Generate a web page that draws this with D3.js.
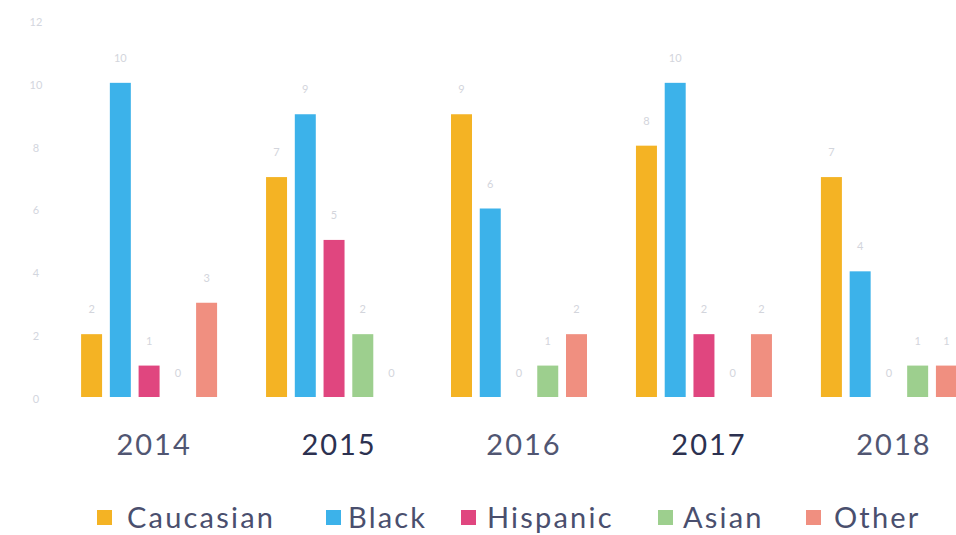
<!DOCTYPE html>
<html>
<head>
<meta charset="utf-8">
<script src="https://cdn.jsdelivr.net/npm/d3@7"></script>
<style>
  html, body { margin: 0; padding: 0; background: #fff; }
  body { width: 956px; height: 535px; overflow: hidden; }
  svg { display: block; font-family: Lato, "Open Sans", sans-serif; }
</style>
</head>
<body>
<script>
const width = 956;
const height = 535;

const years = ["2014", "2015", "2016", "2017", "2018"];
const groups = ["Caucasian", "Black", "Hispanic", "Asian", "Other"];
const colors = ["#f4b324", "#3cb2ea", "#e0467f", "#9dcf8e", "#f08f80"];

const caucasian = [2, 7, 9, 8, 7];
const black = [10, 9, 6, 10, 4];
const hispanic = [1, 5, 0, 2, 0];
const asian = [0, 2, 1, 0, 1];
const other = [3, 0, 2, 2, 1];

const yTicks = [0, 2, 4, 6, 8, 10, 12];

const series = [caucasian, black, hispanic, asian, other];

const rows = years.map((y, i) => ({
  year: y,
  values: groups.map((g, j) => ({ key: g, value: series[j][i], color: colors[j] })),
}));

const margin = { top: 20, right: 0, bottom: 138, left: 58 };

const svg = d3.create("svg")
  .attr("width", width)
  .attr("height", height)
  .attr("viewBox", [0, 0, width, height]);

const x0 = d3.scaleBand()
  .domain(years)
  .range([margin.left, 980])
  .paddingInner(0.215)
  .paddingOuter(0.1);

const x1 = d3.scaleBand()
  .domain(groups)
  .range([0, x0.bandwidth()])
  .paddingInner(0.27)
  .paddingOuter(0.16);

const y = d3.scaleLinear()
  .domain([0, 12])
  .range([height - margin.bottom, margin.top]);

// faint y tick labels
svg.append("g")
  .selectAll("text")
  .data(yTicks)
  .join("text")
  .attr("x", 36)
  .attr("y", (d) => y(d) + 2)
  .attr("dy", "0.35em")
  .attr("text-anchor", "middle")
  .attr("fill", "#d3d6de")
  .attr("font-size", 11)
  .text((d) => d);

const group = svg.append("g")
  .selectAll("g")
  .data(rows)
  .join("g")
  .attr("transform", (d) => `translate(${x0(d.year)},0)`);

group.selectAll("rect")
  .data((d) => d.values)
  .join("rect")
  .attr("x", (d) => x1(d.key))
  .attr("y", (d) => y(d.value))
  .attr("width", x1.bandwidth())
  .attr("height", (d) => y(0) - y(d.value))
  .attr("fill", (d) => d.color);

// value labels (very faint in the original print)
group.selectAll("text.val")
  .data((d) => d.values)
  .join("text")
  .attr("class", "val")
  .attr("x", (d) => x1(d.key) + x1.bandwidth() / 2)
  .attr("y", (d) => (d.value === 0 ? y(0) - 20 : y(d.value) - 21))
  .attr("text-anchor", "middle")
  .attr("fill", "#d3d5dc")
  .attr("font-size", 11)
  .text((d) => d.value);

// year labels
svg.append("g")
  .selectAll("text")
  .data(years)
  .join("text")
  .attr("x", (d) => x0(d) + x0.bandwidth() / 2 + 5)
  .attr("y", 455)
  .attr("text-anchor", "middle")
  .attr("fill", (d) => (d === "2015" || d === "2017" ? "#2c3150" : "#515672"))
  .attr("font-size", 29)
  .attr("letter-spacing", 2)
  .text((d) => d);

// legend
const squareX = [97, 326, 461, 658, 806];
const textX = [127, 348, 487, 683, 834];

const legend = svg.append("g")
  .selectAll("g")
  .data(groups)
  .join("g");

legend.append("rect")
  .attr("x", (d, i) => squareX[i])
  .attr("y", 510)
  .attr("width", 15)
  .attr("height", 15)
  .attr("fill", (d, i) => colors[i]);

legend.append("text")
  .attr("x", (d, i) => textX[i])
  .attr("y", 518)
  .attr("dy", "0.35em")
  .attr("fill", "#4a4f6e")
  .attr("font-size", 29)
  .attr("letter-spacing", 2.2)
  .text((d) => d);

document.body.appendChild(svg.node());
</script>
</body>
</html>
